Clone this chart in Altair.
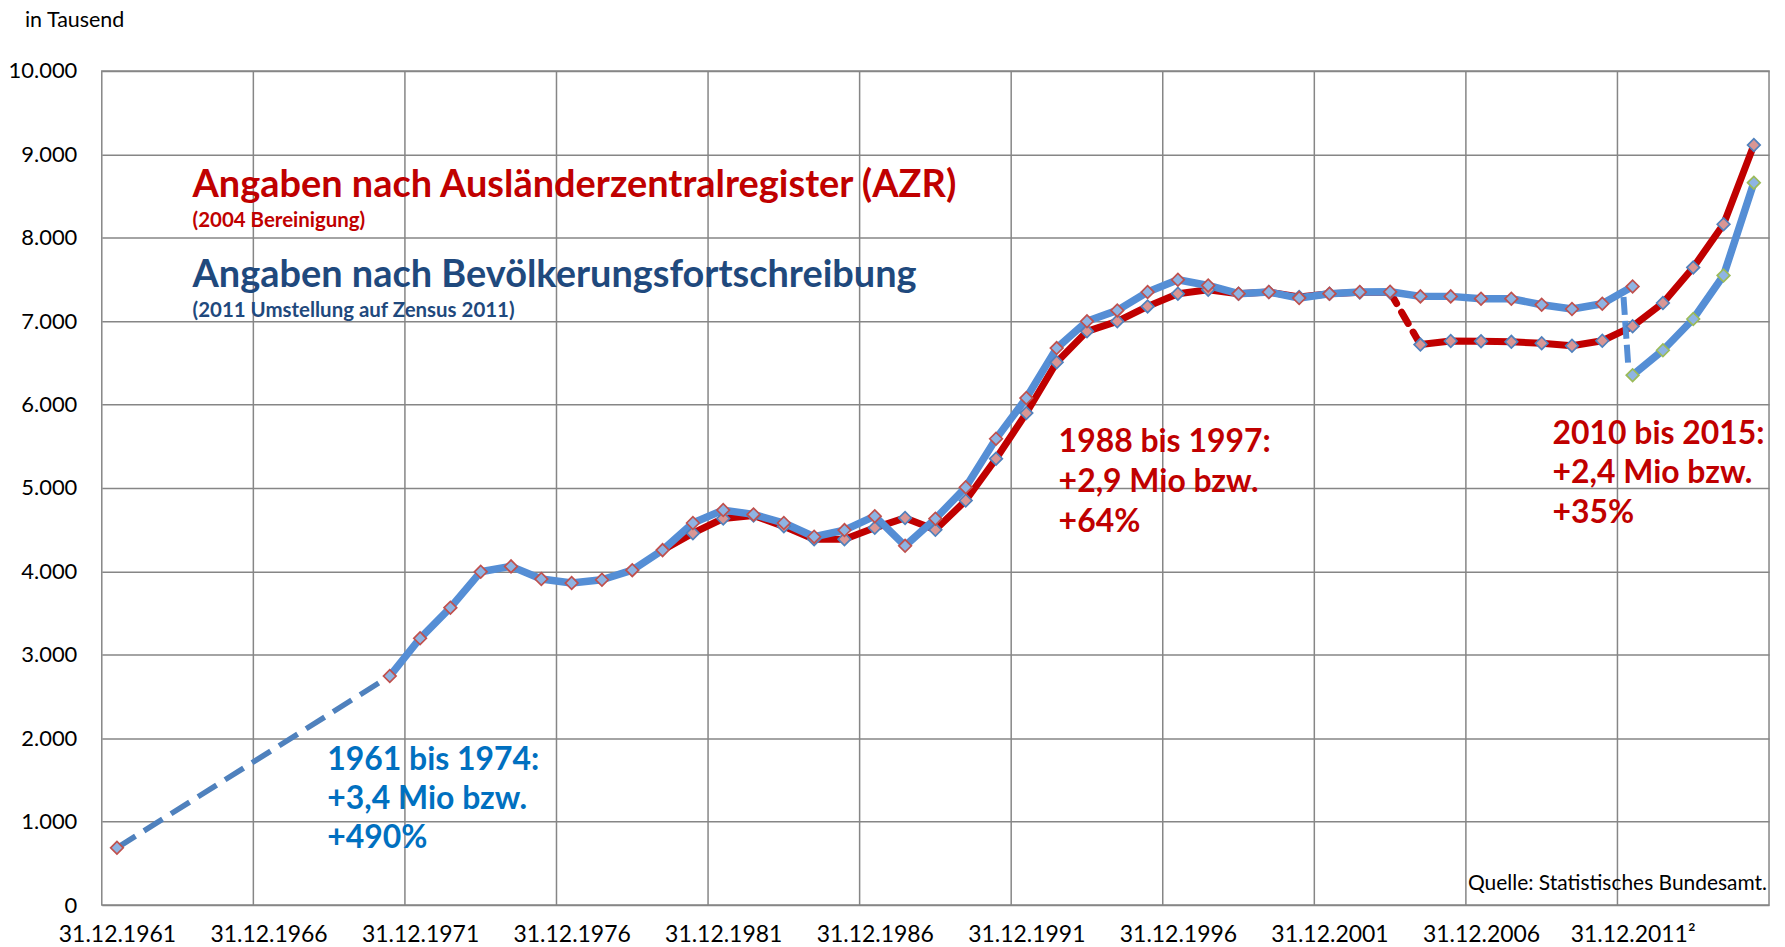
import altair as alt
import pandas as pd

# ---------------- data (values in thousands) ----------------
# Bevölkerungsfortschreibung (old basis), 1961 and 1970-2011
fort_years = [1961] + list(range(1970, 2012))
fort_values = [686, 2745, 3198, 3565, 3995, 4060, 3908, 3860, 3900, 4015, 4255,
               4580, 4735, 4683, 4580, 4415, 4495, 4662, 4306, 4632, 5008,
               5590, 6078, 6677, 6998, 7129, 7349, 7496, 7428, 7329, 7349,
               7277, 7329, 7349, 7352, 7297, 7297, 7269, 7269, 7197, 7146,
               7209, 7416]

# Ausländerzentralregister (AZR), 1979-2015
azr_years = list(range(1979, 2016))
azr_values = [4255, 4458, 4634, 4670, 4540, 4386, 4386, 4522, 4641, 4498,
              4849, 5351, 5898, 6507, 6878, 6998, 7177, 7329, 7377, 7329,
              7349, 7290, 7329, 7345, 7345, 6719, 6762, 6760, 6752, 6735,
              6705, 6765, 6938, 7217, 7644, 8162, 9111]

# Bevölkerungsfortschreibung on Zensus 2011 basis
zensus_years = [2011, 2012, 2013, 2014, 2015]
zensus_values = [6352, 6651, 7026, 7548, 8660]

# dashed switch-over connector (old -> Zensus basis)
switch_years = [2010.7, 2010.85]
switch_values = [7290, 6500]

tick_years = [1961, 1966, 1971, 1976, 1981, 1986, 1991, 1996, 2001, 2006, 2011]
grid_years = [1965.5, 1970.5, 1975.5, 1980.5, 1985.5, 1990.5, 1995.5,
              2000.5, 2005.5, 2010.5]
y_ticks = list(range(0, 10001, 1000))

fort = pd.DataFrame({"year": fort_years, "value": fort_values})
azr = pd.DataFrame({"year": azr_years, "value": azr_values})
zen = pd.DataFrame({"year": zensus_years, "value": zensus_values})
sw = pd.DataFrame({"year": switch_years, "value": switch_values})
grid = pd.DataFrame({"year": grid_years})
one = pd.DataFrame({"a": [0]})

FONT = "Lato"
GRID = "#868686"
RED = "#C00000"
BLUE = "#558ED5"

X = alt.X("year:Q",
          scale=alt.Scale(domain=[1960.5, 2015.5], nice=False, zero=False),
          axis=alt.Axis(values=tick_years, grid=False, ticks=False, domain=False,
                        title=None, labelFont=FONT, labelFontSize=23,
                        labelColor="#000000", labelBaseline="middle",
                        labelPadding=30, labelFlush=False, labelOverlap=False,
                        labelExpr="'31.12.' + datum.value + (datum.value == 2011 ? '²' : '')"))
Y = alt.Y("value:Q",
          scale=alt.Scale(domain=[0, 10000], nice=False, zero=True),
          axis=alt.Axis(values=y_ticks, grid=True, gridColor=GRID, gridWidth=1.5,
                        gridOpacity=1, ticks=False, domain=False, title=None,
                        labelFont=FONT, labelFontSize=22, labelColor="#000000",
                        labelPadding=25,
                        labelExpr="replace(format(datum.value, ','), ',', '.')"))


def line(df, color, width, dash=None, cap="butt"):
    kw = dict(color=color, strokeWidth=width, strokeJoin="round", strokeCap=cap)
    if dash:
        kw["strokeDash"] = dash
    return alt.Chart(df).mark_line(**kw).encode(x=X, y=Y)


def pts(df, fill, stroke):
    return alt.Chart(df).mark_point(shape="diamond", filled=True, fill=fill,
                                    stroke=stroke, strokeWidth=1.7, size=160,
                                    opacity=1).encode(x=X, y=Y)


def text(lines, x, y, size, color, bold=True, align="left", lh=None,
         baseline="middle"):
    kw = dict(text=lines, font=FONT, fontSize=size, color=color,
              fontWeight="bold" if bold else "normal", align=align,
              baseline=baseline)
    if lh:
        kw["lineHeight"] = lh
    return alt.Chart(one).mark_text(**kw).encode(x=alt.value(x), y=alt.value(y))


grid_layer = alt.Chart(grid).mark_rule(color=GRID, strokeWidth=1.5).encode(x=X)

azr_a = line(azr[azr.year <= 2003], RED, 7)
azr_b = line(azr[(azr.year >= 2003) & (azr.year <= 2004)], RED, 7, [13, 10], "round")
azr_c = line(azr[azr.year >= 2004], RED, 7)
fort_a = line(fort[fort.year <= 1970], "#4F81BD", 5.5, [22, 10])
fort_b = line(fort[fort.year >= 1970], BLUE, 7.5)
zen_l = line(zen, BLUE, 7.5)
sw_l = line(sw, BLUE, 6, [18, 6])

azr_p = pts(azr[azr.year >= 1980], "#D99694", "#4F81BD")
fort_p = pts(fort, "#8EB4E3", "#C0504D")
zen_p = pts(zen, "#8EB4E3", "#9BBB59")

texts = [
    text("in Tausend", -77, -44, 21.5, "#000000", bold=False, baseline="alphabetic"),
    text("Angaben nach Ausländerzentralregister (AZR)", 91, 115, 38, RED),
    text("(2004 Bereinigung)", 91, 150, 20.5, RED),
    text("Angaben nach Bevölkerungsfortschreibung", 91, 206, 38, "#1F497D"),
    text("(2011 Umstellung auf Zensus 2011)", 91, 241, 20.5, "#1F497D"),
    text(["1988 bis 1997:", "+2,9 Mio bzw.", "+64%"], 959, 372, 32, RED, lh=40),
    text(["2010 bis 2015:", "+2,4 Mio bzw.", "+35%"], 1454, 364, 32, RED, lh=39.5),
    text(["1961 bis 1974:", "+3,4 Mio bzw.", "+490%"], 226, 691, 32, "#0070C0", lh=39),
    text("Quelle: Statistisches Bundesamt.", 1669, 815, 21, "#000000", bold=False,
         align="right"),
]

chart = alt.layer(
    grid_layer, azr_a, azr_b, azr_c, fort_a, fort_b, zen_l, sw_l,
    azr_p, fort_p, zen_p, *texts
).properties(
    width=1671, height=836,
    padding={"left": 94, "top": 62, "right": 8, "bottom": 41},
    autosize=alt.AutoSizeParams(type="none"),
    background="white",
).configure_view(stroke=GRID, strokeWidth=1.5)

chart.save("out.html", embed_options={"renderer": "svg", "actions": False})
